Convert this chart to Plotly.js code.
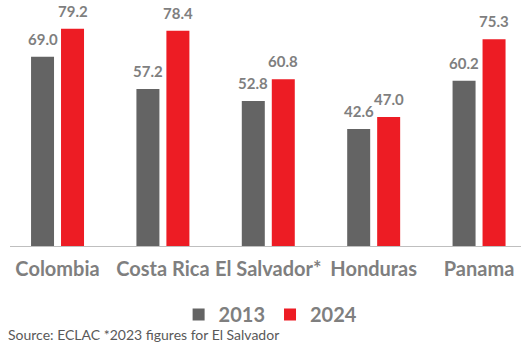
<!DOCTYPE html>
<html>
<head>
<meta charset="utf-8">
<script src="https://cdn.plot.ly/plotly-3.0.1.min.js"></script>
<style>html,body{margin:0;padding:0;background:#fff;overflow:hidden}</style>
</head>
<body>
<div id="chart" style="width:521px;height:343px"></div>
<script>
const categories = ["Colombia", "Costa Rica", "El Salvador*", "Honduras", "Panama"];
const values2013 = [69.0, 57.2, 52.8, 42.6, 60.2];
const values2024 = [79.2, 78.4, 60.8, 47.0, 75.3];
const seriesNames = ["2013", "2024"];
const sourceNote = "Source: ECLAC *2023 figures for El Salvador";

const FONT = "Lato, 'Source Sans Pro', 'Noto Sans', sans-serif";
const GRAY = "#646464";
const RED = "#ed1c24";
const TEXTGRAY = "#7f7f7f";

const traces = [
  {type: "bar", name: seriesNames[0], x: categories, y: values2013,
   marker: {color: GRAY}, hoverinfo: "none"},
  {type: "bar", name: seriesNames[1], x: categories, y: values2024,
   marker: {color: RED}, hoverinfo: "none"}
];

const annotations = [];
[values2013, values2024].forEach((vals, s) => {
  vals.forEach((v, i) => {
    annotations.push({
      x: categories[i], y: v, xref: "x", yref: "y",
      text: v.toFixed(1), showarrow: false,
      xanchor: "center", yanchor: "bottom",
      xshift: s === 0 ? -15 : 15, yshift: 7,
      font: {family: FONT, size: 15, color: TEXTGRAY, weight: "bold"}
    });
  });
});
annotations.push({
  xref: "paper", yref: "paper", x: -0.008, y: -0.373,
  xanchor: "left", yanchor: "middle", showarrow: false,
  text: sourceNote,
  font: {family: FONT, size: 14, color: "#595959"}
});

const layout = {
  width: 521, height: 343,
  margin: {l: 10, r: 0, t: 10, b: 97},
  paper_bgcolor: "#fff", plot_bgcolor: "#fff",
  barmode: "group", bargap: 0.431, bargroupgap: 0.233,
  showlegend: true,
  legend: {orientation: "h", x: 0.51, xanchor: "center", y: -0.29, yanchor: "middle",
           font: {family: FONT, size: 20, color: TEXTGRAY, weight: "bold"},
           traceorder: "normal"},
  xaxis: {type: "category", range: [-0.451, 4.398], showline: true, linecolor: "#bfbfbf",
          linewidth: 1, ticks: "", showgrid: false, zeroline: false, ticklabelstandoff: 5,
          tickfont: {family: FONT, size: 20, color: TEXTGRAY, weight: "bold"}},
  yaxis: {range: [0, 86], visible: false, showgrid: false, zeroline: false},
  annotations: annotations,
  font: {family: FONT}
};

Plotly.newPlot("chart", traces, layout, {displayModeBar: false, staticPlot: true});
</script>
</body>
</html>
